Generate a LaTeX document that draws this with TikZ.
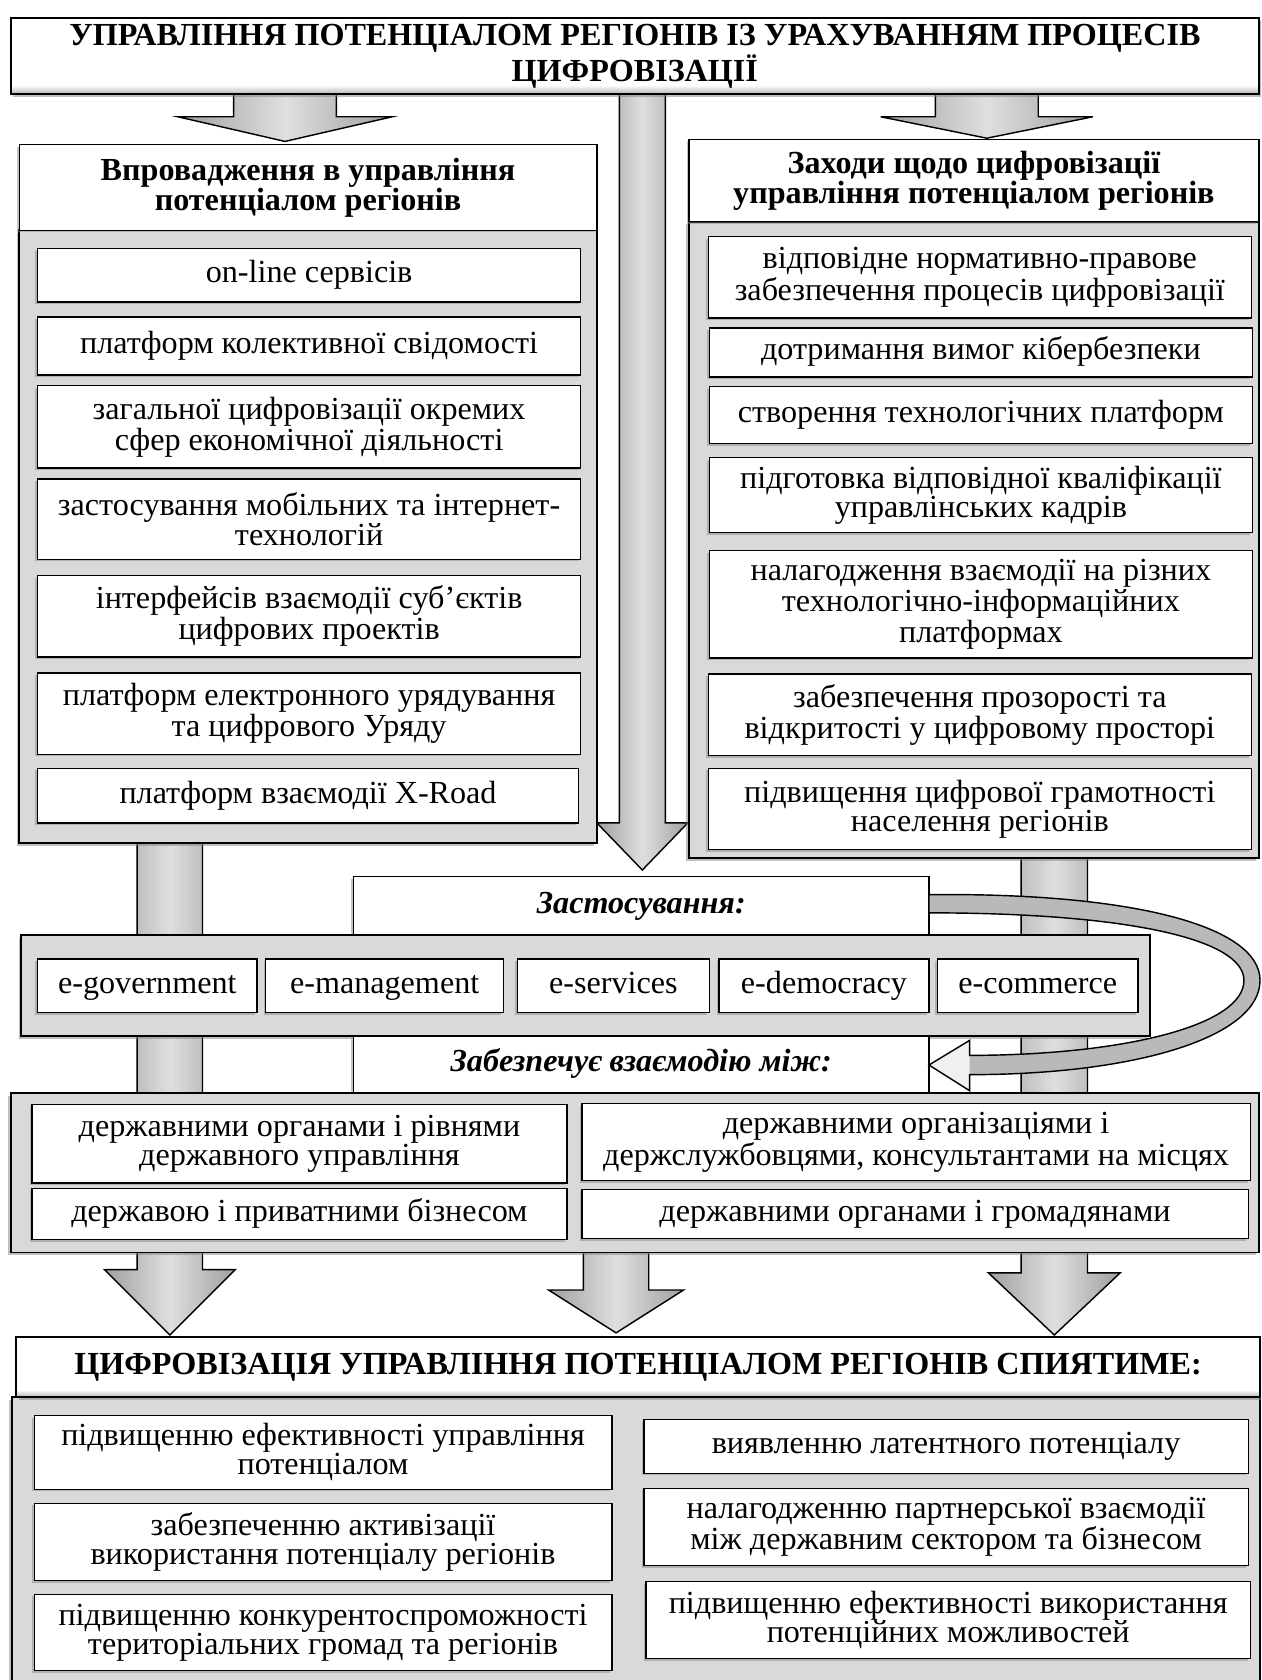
\documentclass[tikz,border=0pt]{standalone}
\usepackage{fontspec}
\setmainfont{Liberation Serif}
\usetikzlibrary{shadows}
\pgfdeclareverticalshading{bevelv}{100bp}{color(0bp)=(gray!60); color(25bp)=(gray!60); color(31bp)=(white); color(100bp)=(white)}
\newcommand{\blockdown}[6]{\draw[blockarrow] ({#1-#2},#4) -- ({#1+#2},#4) -- ({#1+#2},#5) -- ({#1+#3},#5) -- (#1,#6) -- ({#1-#3},#5) -- ({#1-#2},#5) -- cycle;}
\newcommand{\bx}[7]{\node[#2, minimum width={(#5-#3)*0.6pt}, minimum height={(#6-#4)*0.6pt}] (#1) at ({(#3+#5)/2},{(#4+#6)/2}) {#7};}
\newcommand{\curvedpath}{(867,835) .. controls (1060,833) and (1176,865) .. (1176,915) .. controls (1176,968) and (1060,1003) .. (905,1003) -- (905,1018) -- (867,994) -- (905,971) -- (905,985) .. controls (1045,985) and (1161,958) .. (1161,915) .. controls (1161,876) and (1050,852) .. (867,852) -- cycle}
\begin{document}
\begin{tikzpicture}[x=0.6pt,y=-0.6pt,
  txt/.style={font=\fontsize{18pt}{16.2pt}\selectfont},
  itembox/.style={draw=black, line width=0.8pt, fill=white, inner sep=0pt, align=center, txt,
    drop shadow={shadow xshift=-1.2pt, shadow yshift=-1.2pt, opacity=0.45}},
  oneline/.style={itembox, text height=12.4pt, text depth=4pt},
  headbox/.style={itembox, font=\bfseries\fontsize{18pt}{16.8pt}\selectfont},
  zastbox/.style={itembox, font=\bfseries\itshape\fontsize{18pt}{16.8pt}\selectfont, text height=12.4pt, text depth=4pt},
  panelbox/.style={draw=black, line width=1.1pt, fill=gray!30, inner sep=0pt,
    drop shadow={shadow xshift=-1.5pt, shadow yshift=-1.5pt, opacity=0.5}},
  titlebox/.style={draw=black, line width=1.2pt, shade, shading=bevelv, inner sep=0pt, align=center,
    font=\bfseries\fontsize{18pt}{17.4pt}\selectfont,
    drop shadow={shadow xshift=1.5pt, shadow yshift=-1.5pt, opacity=0.5}},
  blockarrow/.style={draw=black, line width=0.8pt, left color=gray!75, right color=gray!75, middle color=gray!25}
]
\useasboundingbox (0,0) rectangle (1177,1568);
\fill[white] (0,0) rectangle (1177,1568);
\begin{scope}
\clip (0,0) rectangle (1177,1568);

% block arrows and bars (behind)
\blockdown{599.5}{21.5}{42.5}{85}{768}{812}
\blockdown{266}{48}{100}{85}{109}{132}
\blockdown{921}{48}{99}{85}{109}{129}
\blockdown{158.5}{30.5}{61}{780}{1185}{1246}
\blockdown{984}{31}{61.5}{795}{1188}{1246}
\blockdown{575}{30.5}{63}{1160}{1204}{1244}

% title
\bx{title}{titlebox}{10}{17}{1175}{88}{УПРАВЛІННЯ ПОТЕНЦІАЛОМ РЕГІОНІВ ІЗ УРАХУВАННЯМ ПРОЦЕСІВ\\ЦИФРОВІЗАЦІЇ}

% left column
\bx{lpanel}{panelbox}{18}{215}{557}{787}{}
\bx{lhead}{headbox}{18}{135}{557}{215}{Впровадження в управління\\потенціалом регіонів}
\bx{l1}{oneline}{35}{232}{542}{282}{on-line сервісів}
\bx{l2}{oneline}{35}{296}{542}{350}{платформ колективної свідомості}
\bx{l3}{itembox}{35}{360}{542}{437}{загальної цифровізації окремих\\сфер економічної діяльності}
\bx{l4}{itembox}{35}{447}{542}{522}{застосування мобільних та інтернет-\\технологій}
\bx{l5}{itembox}{35}{537}{542}{613}{інтерфейсів взаємодії суб’єктів\\цифрових проектів}
\bx{l6}{itembox}{35}{628}{542}{704}{платформ електронного урядування\\та цифрового Уряду}
\bx{l7}{oneline}{35}{717}{540}{768}{платформ взаємодії X-Road}

% right column
\bx{rpanel}{panelbox}{643}{207}{1175}{801}{}
\bx{rhead}{headbox}{643}{130}{1175}{207}{Заходи щодо цифровізації\\управління потенціалом регіонів}
\bx{r1}{itembox}{661}{221}{1168}{297}{відповідне нормативно-правове\\забезпечення процесів цифровізації}
\bx{r2}{oneline}{662}{306}{1169}{352}{дотримання вимог кібербезпеки}
\bx{r3}{oneline}{662}{361}{1169}{414}{створення технологічних платформ}
\bx{r4}{itembox}{662}{427}{1169}{497}{підготовка відповідної кваліфікації\\управлінських кадрів}
\bx{r5}{itembox}{662}{514}{1169}{614}{налагодження взаємодії на різних\\технологічно-інформаційних\\платформах}
\bx{r6}{itembox}{661}{629}{1168}{705}{забезпечення прозорості та\\відкритості у цифровому просторі}
\bx{r7}{itembox}{661}{717}{1168}{793}{підвищення цифрової грамотності\\населення регіонів}

% applications
\bx{zast}{zastbox}{330}{818}{867}{873}{Застосування:}
\bx{epanel}{panelbox}{20}{873}{1073}{967}{}
\bx{e1}{oneline}{35}{895}{240}{945}{e-government}
\bx{e2}{oneline}{248}{895}{470}{945}{e-management}
\bx{e3}{oneline}{483}{895}{662}{945}{e-services}
\bx{e4}{oneline}{671}{895}{867}{945}{e-democracy}
\bx{e5}{oneline}{875}{895}{1062}{945}{e-commerce}
\bx{zab}{zastbox}{330}{967}{867}{1020}{Забезпечує взаємодію між:}

% interaction
\bx{ipanel}{panelbox}{10}{1020}{1175}{1169}{}
\bx{i1}{itembox}{30}{1031}{529}{1104}{державними органами і рівнями\\державного управління}
\bx{i2}{oneline}{30}{1109}{529}{1157}{державою і приватними бізнесом}
\bx{i3}{itembox}{543}{1030}{1167}{1102}{державними організаціями і\\держслужбовцями, консультантами на місцях}
\bx{i4}{oneline}{543}{1110}{1165}{1156}{державними органами і громадянами}

% bottom
\bx{bpanel}{panelbox}{11}{1304}{1176}{1585}{}
\bx{btitle}{titlebox}{15}{1248}{1176}{1304}{ЦИФРОВІЗАЦІЯ УПРАВЛІННЯ ПОТЕНЦІАЛОМ РЕГІОНІВ СПИЯТИМЕ:}
\bx{b1}{itembox}{32}{1321}{571}{1390}{підвищенню ефективності управління\\потенціалом}
\bx{b2}{itembox}{32}{1403}{571}{1475}{забезпеченню активізації\\використання потенціалу регіонів}
\bx{b3}{itembox}{32}{1488}{571}{1559}{підвищенню конкурентоспроможності\\територіальних громад та регіонів}
\bx{b4}{oneline}{601}{1325}{1165}{1375}{виявленню латентного потенціалу}
\bx{b5}{itembox}{601}{1389}{1165}{1461}{налагодженню партнерської взаємодії\\між державним сектором та бізнесом}
\bx{b6}{itembox}{603}{1476}{1167}{1548}{підвищенню ефективності використання\\потенційних можливостей}

% curved arrow from zast to zab
\path[fill=gray!55] \curvedpath;
\fill[gray!12] (905,971) -- (867,994) -- (905,1018) -- cycle;
\draw[line width=0.8pt, line join=miter] \curvedpath;
\end{scope}
\end{tikzpicture}
\end{document}
